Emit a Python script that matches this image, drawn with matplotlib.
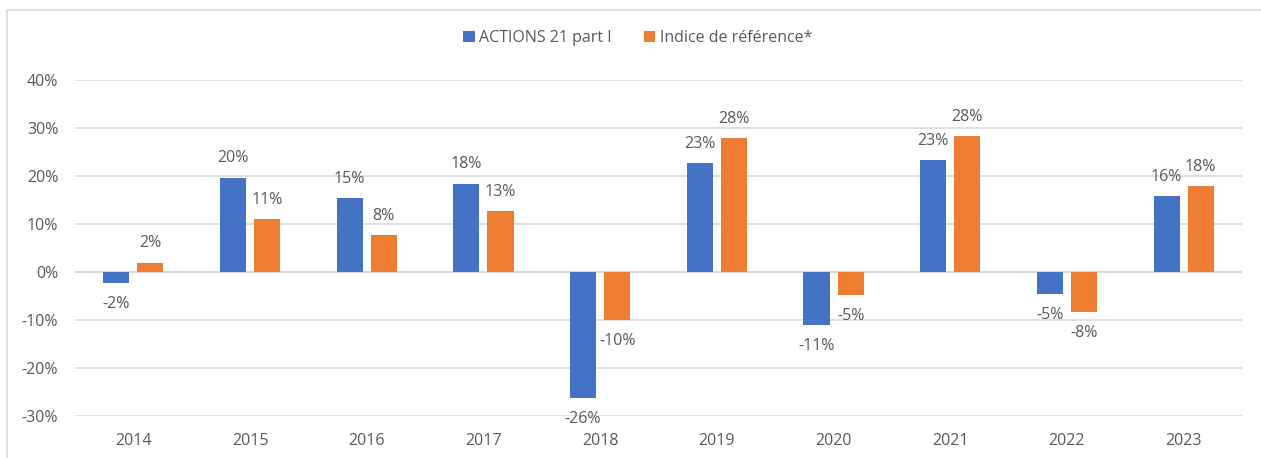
import matplotlib.pyplot as plt
import numpy as np
from matplotlib.patches import Rectangle

years = ["2014", "2015", "2016", "2017", "2018", "2019", "2020", "2021", "2022", "2023"]
fund = [-2.3, 19.6, 15.4, 18.4, -26.3, 22.7, -11.1, 23.3, -4.6, 15.8]
index = [1.9, 11.0, 7.7, 12.7, -10.0, 27.9, -4.8, 28.3, -8.3, 17.9]
fund_name = "ACTIONS 21 part I"
index_name = "Indice de référence*"

plt.rcParams['font.family'] = ['Open Sans', 'DejaVu Sans']
grey = "#595959"
fs = 11.5

fig = plt.figure(figsize=(12.61, 4.58), dpi=100)
ax = fig.add_axes([75 / 1261, 42 / 458, 1167 / 1261, 336 / 458])

# outer chart frame (cut off at right and bottom like the screenshot)
fig.patches.append(Rectangle((7 / 1261, -0.1), 1.2, (458 - 10) / 458 + 0.1,
                             transform=fig.transFigure, fill=False,
                             edgecolor="#D9D9D9", linewidth=1.2))

x = np.arange(len(years))
w = 0.223
off = 0.146
b1 = ax.bar(x - off, fund, w, color="#4472C4", label=fund_name, zorder=3)
b2 = ax.bar(x + off, index, w, color="#ED7D31", label=index_name, zorder=3)

for bars, vals in [(b1, fund), (b2, index)]:
    for rect, v in zip(bars, vals):
        cx = rect.get_x() + rect.get_width() / 2
        dy = 14 if v >= 0 else -15
        ax.annotate('%.0f%%' % v, (cx, v), xytext=(0, dy), textcoords="offset points",
                    ha='center', va='center', fontsize=fs, color=grey)

ax.set_xlim(-0.5, len(years) - 0.5)
ax.set_ylim(-30, 40)
ax.set_yticks(range(-30, 41, 10))
ax.set_yticklabels(['%d%%' % t for t in range(-30, 41, 10)])
ax.set_xticks(x)
ax.set_xticklabels(years)
ax.tick_params(axis='both', length=0, labelsize=fs, labelcolor=grey)
ax.tick_params(axis='x', pad=12)
ax.tick_params(axis='y', pad=12)
ax.grid(axis='y', color="#D9D9D9", linewidth=1.2, zorder=0)
for s in ax.spines.values():
    s.set_visible(False)
ax.axhline(0, color="#D9D9D9", linewidth=1.5, zorder=2)

fig.legend(loc='center', bbox_to_anchor=(638 / 1261, 1 - 38 / 458), ncol=2, frameon=False,
           fontsize=fs, labelcolor=grey, handlelength=0.7, handleheight=0.7,
           handletextpad=0.3, columnspacing=2.0)

fig.savefig("out.png", dpi=100)
